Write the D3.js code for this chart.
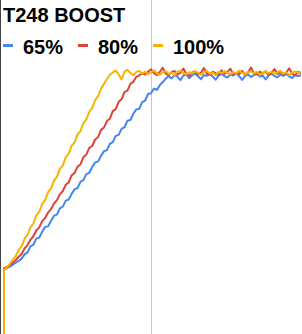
<!DOCTYPE html>
<html>
<head>
<meta charset="utf-8">
<script src="https://cdn.jsdelivr.net/npm/d3@7"></script>
<style>
  body { margin: 0; background: #fff; }
  svg { display: block; font-family: "Liberation Sans", Arial, sans-serif; }
</style>
</head>
<body>
<div id="chart"></div>
<script>
// series names and colours
const seriesNames = ["65%", "80%", "100%"];
const seriesColors = ["#4285F4", "#DB4437", "#F4B400"];

// boost readings, one per sample (sample 0 starts from zero)
const boost65 = [
  24.8, 25.3, 25.9, 26.7, 27.4, 28.1, 29.0, 30.6, 31.4, 33.7,
  34.4, 36.7, 37.1, 39.3, 41.2, 41.4, 43.6, 45.5, 45.9, 48.3,
  49.0, 51.3, 51.7, 53.9, 55.7, 56.1, 58.5, 59.2, 61.5, 62.0,
  64.2, 66.0, 66.3, 68.5, 70.3, 70.7, 73.1, 73.8, 76.2, 76.6,
  78.9, 79.6, 82.0, 82.3, 84.7, 86.4, 86.6, 89.2, 89.8, 92.3,
  92.6, 94.4, 93.9, 95.7, 96.9, 98.2, 99.2, 98.3, 99.6, 99.0,
  97.6, 99.4, 99.8, 98.4, 99.5, 100.2, 99.1, 98.0, 99.6, 99.3,
  100.1, 99.0, 97.8, 99.5, 100.0, 99.2, 98.6, 99.8, 99.4, 100.3,
  99.1, 97.7, 99.3, 99.9, 98.8, 99.6, 100.2, 99.0, 99.4, 97.9,
  99.5, 100.1, 99.2, 98.7, 99.8, 99.3, 100.0, 99.1, 98.4, 99.7,
  99.2, 99.5
];
const boost80 = [
  25.2, 25.8, 26.6, 27.5, 28.4, 29.7, 30.8, 32.9, 34.2, 36.3,
  37.6, 39.8, 41.0, 43.4, 44.6, 46.7, 48.0, 50.2, 51.5, 53.7,
  55.0, 57.4, 58.3, 61.0, 61.9, 64.4, 65.2, 68.0, 69.0, 71.6,
  72.3, 74.8, 75.7, 78.5, 79.4, 81.9, 82.8, 85.7, 86.5, 89.3,
  90.3, 93.0, 93.7, 96.2, 97.0, 98.9, 99.5, 100.3, 99.8, 100.9,
  101.8, 100.3, 99.6, 100.8, 102.4, 100.1, 99.5, 100.7, 101.2, 99.8,
  100.4, 102.1, 100.0, 99.3, 100.6, 101.0, 99.9, 100.5, 102.3, 100.2,
  99.7, 100.9, 100.3, 99.6, 101.4, 100.1, 100.8, 102.0, 99.9, 100.5,
  100.0, 101.2, 99.7, 100.6, 102.5, 100.3, 99.8, 100.9, 100.2, 101.1,
  99.6, 100.4, 101.9, 100.0, 100.7, 99.9, 100.5, 102.2, 100.1, 99.5,
  100.8, 100.3
];
const boost100 = [
  24.6, 25.6, 27.0, 28.5, 30.0, 32.3, 33.8, 36.6, 38.1, 41.0,
  42.5, 45.6, 47.0, 50.1, 51.5, 54.6, 56.0, 59.0, 60.4, 63.5,
  64.8, 68.0, 69.3, 72.4, 73.6, 76.8, 78.0, 81.1, 82.5, 85.4,
  87.0, 89.9, 91.5, 94.3, 96.2, 98.0, 99.7, 100.6, 101.3, 99.8,
  97.9, 100.9, 101.6, 100.4, 99.5, 100.8, 101.2, 100.2, 100.9, 99.9,
  100.6, 101.4, 100.3, 99.7, 100.8, 101.1, 100.0, 100.5, 99.6, 100.9,
  101.3, 100.4, 99.8, 100.7, 100.2, 101.0, 100.5, 99.7, 100.8, 101.2,
  100.1, 100.6, 99.5, 100.9, 100.3, 101.1, 100.4, 99.9, 100.7, 100.2,
  101.3, 100.5, 99.8, 100.6, 101.0, 100.2, 100.8, 99.7, 100.4, 101.1,
  100.3, 100.9, 100.0, 100.6, 101.2, 100.1, 100.7, 99.6, 100.5, 101.0,
  100.4, 100.8
];
const allSeries = [boost65, boost80, boost100];

// vertical gridline position (sample index)
const gridTicks = [50];

const width = 302;
const height = 334;

const svg = d3.select("#chart")
  .append("svg")
  .attr("width", width)
  .attr("height", height);

const x = d3.scaleLinear()
  .domain([0, 100])
  .range([4, 298]);

const y = d3.scaleLinear()
  .domain([0, 100])
  .range([334, 74]);

// gridline
svg.selectAll(".grid")
  .data(gridTicks)
  .enter()
  .append("line")
  .attr("class", "grid")
  .attr("x1", d => Math.round(x(d)) + 0.5)
  .attr("x2", d => Math.round(x(d)) + 0.5)
  .attr("y1", 0)
  .attr("y2", height)
  .style("stroke", "#c8c8c8")
  .style("stroke-width", 1);

// left axis line
svg.append("line")
  .attr("x1", 0.5)
  .attr("x2", 0.5)
  .attr("y1", 0)
  .attr("y2", height)
  .style("stroke", "#444")
  .style("stroke-width", 1);

const line = d3.line()
  .x(d => x(d[0]))
  .y(d => y(d[1]));

// draw each series, starting from zero at sample 0
allSeries.forEach((vals, k) => {
  const pts = [[0, 0]].concat(vals.map((v, i) => [i, v]));
  svg.append("path")
    .datum(pts)
    .attr("fill", "none")
    .attr("stroke", seriesColors[k])
    .attr("stroke-width", 2)
    .attr("stroke-linejoin", "round")
    .attr("d", line);
});

// title
svg.append("text")
  .attr("x", 3)
  .attr("y", 22)
  .style("font-size", "20px")
  .style("font-weight", "bold")
  .style("fill", "#000")
  .text("T248 BOOST");

// legend
const legendX = [3, 78, 153];
const legend = svg.selectAll(".legend")
  .data(seriesNames)
  .enter()
  .append("g")
  .attr("class", "legend")
  .attr("transform", (d, i) => `translate(${legendX[i]}, 0)`);

legend.append("rect")
  .attr("x", 0)
  .attr("y", 44)
  .attr("width", 10)
  .attr("height", 3)
  .attr("fill", (d, i) => seriesColors[i]);

legend.append("text")
  .attr("x", 20)
  .attr("y", 54)
  .style("font-size", "20px")
  .style("font-weight", "bold")
  .style("fill", "#000")
  .text(d => d);
</script>
</body>
</html>
